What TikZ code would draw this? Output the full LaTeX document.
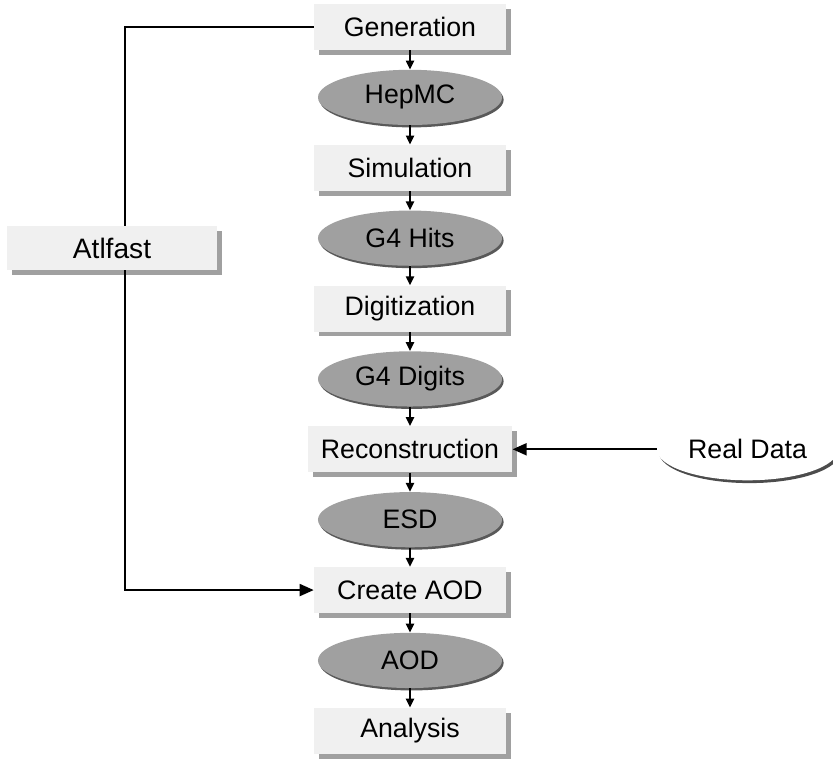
\documentclass[tikz,border=0pt]{standalone}
\usepackage{fontspec}
\setmainfont{Liberation Sans}
\usetikzlibrary{arrows.meta,positioning,shapes,shadows}
\definecolor{boxbg}{RGB}{240,240,240}
\definecolor{boxshade}{RGB}{160,160,160}
\definecolor{datafill}{RGB}{160,160,160}

\begin{document}
\begin{tikzpicture}[
  x=0.025cm, y=-0.025cm,
  node distance=0.48cm,
  stage/.style={rectangle, fill=boxbg, minimum width=4.8cm, minimum height=1.15cm, inner xsep=0.33cm, font=\fontsize{19}{22}\selectfont, drop shadow={shadow xshift=0.12cm, shadow yshift=-0.12cm, fill=boxshade, opacity=1}},
  data/.style={ellipse, fill=datafill, minimum width=4.6cm, minimum height=1.38cm, font=\fontsize{19}{22}\selectfont, drop shadow={shadow xshift=0.04cm, shadow yshift=-0.06cm, fill=black!65, opacity=1}},
  rawdata/.style={ellipse, fill=white, minimum width=4.4cm, minimum height=1.55cm, font=\fontsize{19}{22}\selectfont, drop shadow={shadow xshift=0.05cm, shadow yshift=-0.07cm, fill=black!70, opacity=1}},
  arrow/.style={-{Triangle[length=2.2mm, width=2mm]}, line width=1.3pt},
  bigarrow/.style={-{Triangle[length=3.5mm, width=3mm]}, line width=1.3pt}
]
  \useasboundingbox (0,0) rectangle (833,759);

  \node[stage] (gen) at (410,27) {Generation};
  \node[data, below=of gen] (hepmc) {HepMC};
  \node[stage, below=of hepmc] (sim) {Simulation};
  \node[data, below=of sim] (hits) {G4 Hits};
  \node[stage, below=of hits] (digi) {Digitization};
  \node[data, below=of digi] (digits) {G4 Digits};
  \node[stage, below=of digits] (reco) {Reconstruction};
  \node[data, below=of reco] (esd) {ESD};
  \node[stage, below=of esd] (caod) {Create AOD};
  \node[data, below=of caod] (aod) {AOD};
  \node[stage, below=of aod] (ana) {Analysis};

  \node[rawdata, right=3.6cm of reco] (real) {Real Data};
  \node[stage, minimum width=5.25cm, minimum height=1.1cm, font=\fontsize{20}{24}\selectfont] (atlfast) at (112,248) {Atlfast};

  \draw[arrow] (gen) -- (hepmc);
  \draw[arrow] (hepmc) -- (sim);
  \draw[arrow] (sim) -- (hits);
  \draw[arrow] (hits) -- (digi);
  \draw[arrow] (digi) -- (digits);
  \draw[arrow] (digits) -- (reco);
  \draw[arrow] (reco) -- (esd);
  \draw[arrow] (esd) -- (caod);
  \draw[arrow] (caod) -- (aod);
  \draw[arrow] (aod) -- (ana);

  \draw[bigarrow] (real) -- (reco);
  \draw[line width=1.3pt] (gen.west) -| ([xshift=0.33cm]atlfast.north);
  \draw[bigarrow] ([xshift=0.33cm]atlfast.south) |- (caod.west);
\end{tikzpicture}
\end{document}
